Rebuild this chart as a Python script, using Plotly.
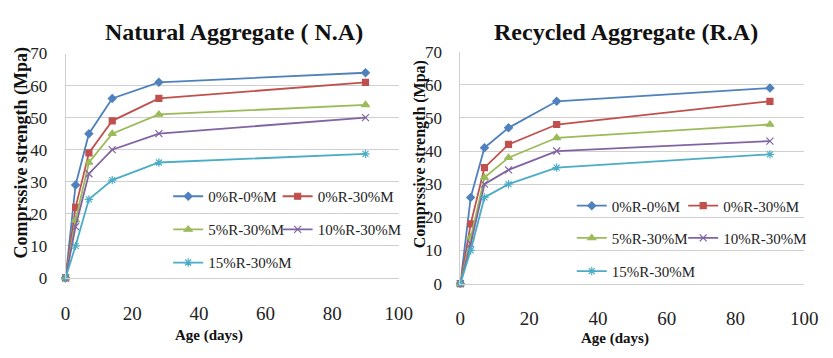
import plotly.graph_objects as go

W, H = 833, 358

days = [0, 3, 7, 14, 28, 90]
series_names = ["0%R-0%M", "0%R-30%M", "5%R-30%M", "10%R-30%M", "15%R-30%M"]

na_0R_0M = [0, 29, 45, 56, 61, 64]
na_0R_30M = [0, 22, 39, 49, 56, 61]
na_5R_30M = [0, 18, 36, 45, 51, 54]
na_10R_30M = [0, 16, 32.5, 40, 45, 50]
na_15R_30M = [0, 10, 24.5, 30.5, 36, 38.7]

ra_0R_0M = [0, 26, 41, 47, 55, 59]
ra_0R_30M = [0, 18, 35, 42, 48, 55]
ra_5R_30M = [0, 14, 32, 38, 44, 48]
ra_10R_30M = [0, 12, 30, 34.3, 40, 43]
ra_15R_30M = [0, 10, 26, 30, 35, 39]

x_ticks = [0, 20, 40, 60, 80, 100]
y_ticks = [0, 10, 20, 30, 40, 50, 60, 70]

colors = ["#4F81BD", "#C0504D", "#9BBB59", "#8064A2", "#4BACC6"]
symbols = ["diamond", "square", "triangle-up", "x-thin-open", "asterisk-open"]
msizes = [6, 6, 7, 7, 7]

FONT = "'Liberation Serif', 'Times New Roman', Times, serif"

def px_x(p):
    return p / W

def px_y(p):
    return 1 - p / H

fig = go.Figure()

na = [na_0R_0M, na_0R_30M, na_5R_30M, na_10R_30M, na_15R_30M]
ra = [ra_0R_0M, ra_0R_30M, ra_5R_30M, ra_10R_30M, ra_15R_30M]

# legend text start positions (px) for each entry: left chart then right chart
left_leg_pos = [(205, 198), (317, 198), (205, 233), (317, 233), (205, 268)]
right_leg_pos = [(618, 208), (732, 208), (618, 242), (732, 242), (618, 277)]

legfont = dict(family=FONT, size=15, color="#222")
TEXT_OFFSET = 38

def leg(xp, yp):
    return dict(x=px_x(xp - TEXT_OFFSET), y=px_y(yp), xanchor="left", yanchor="middle",
                orientation="h", bgcolor="rgba(0,0,0,0)", font=legfont,
                itemwidth=30, traceorder="normal")

legend_layout = {}
n = 0
for side, data, axes, positions in [("L", na, ("x", "y"), left_leg_pos),
                                    ("R", ra, ("x2", "y2"), right_leg_pos)]:
    for i, (name, vals) in enumerate(zip(series_names, data)):
        n += 1
        key = "legend" if n == 1 else f"legend{n}"
        legend_layout[key] = leg(*positions[i])
        fig.add_trace(go.Scatter(
            x=days, y=vals, name=name, mode="lines+markers",
            line=dict(color=colors[i], width=1.8),
            marker=dict(symbol=symbols[i], size=msizes[i], color=colors[i],
                        line=dict(color=colors[i], width=1.2)),
            xaxis=axes[0], yaxis=axes[1], legend=key, cliponaxis=False))

grid = "#CFCFCF"
xtickfont = dict(family=FONT, size=19, color="#222")
ytickfont = dict(family=FONT, size=17, color="#222")

def xax(domain, anchor):
    return dict(domain=domain, anchor=anchor, range=[0, 100], tickvals=x_ticks,
                showgrid=False, zeroline=False, showline=True, linecolor=grid,
                linewidth=1, ticks="", tickfont=xtickfont, ticklabelstandoff=18,
                fixedrange=True)

def yax(domain, anchor, standoff):
    return dict(domain=domain, anchor=anchor, range=[0, 70], tickvals=y_ticks,
                showgrid=True, gridcolor=grid, gridwidth=1, zeroline=False,
                showline=True, linecolor=grid, linewidth=1, ticks="",
                tickfont=ytickfont, ticklabelstandoff=standoff, fixedrange=True)

annotations = [
    dict(text="Natural Aggregate ( N.A)", x=px_x(234), y=px_y(24),
         font=dict(family=FONT, size=24, color="#111", weight="bold")),
    dict(text="Recycled Aggregate (R.A)", x=px_x(635), y=px_y(24),
         font=dict(family=FONT, size=24, color="#111", weight="bold")),
    dict(text="Age (days)", x=px_x(209), y=px_y(345),
         font=dict(family=FONT, size=15, color="#111", weight="bold")),
    dict(text="Age (days)", x=px_x(624), y=px_y(348),
         font=dict(family=FONT, size=15, color="#111", weight="bold")),
    dict(text="Comprssive strength (Mpa)", x=px_x(17), y=px_y(152), textangle=-90,
         font=dict(family=FONT, size=18, color="#111", weight="bold")),
    dict(text="Comprssive strength (Mpa)", x=px_x(425), y=px_y(153), textangle=-90,
         font=dict(family=FONT, size=16, color="#111", weight="bold")),
]
for a in annotations:
    a.update(xref="paper", yref="paper", showarrow=False, xanchor="center", yanchor="middle")

fig.update_layout(
    width=W, height=H,
    margin=dict(l=0, r=0, t=0, b=0),
    paper_bgcolor="white", plot_bgcolor="white",
    font=dict(family=FONT),
    xaxis=xax([px_x(62), px_x(403)], "y"),
    yaxis=yax([px_y(284), px_y(47)], "x", 14),
    xaxis2=xax([px_x(466), px_x(818)], "y2"),
    yaxis2=yax([px_y(290), px_y(45)], "x2", 14),
    annotations=annotations,
    showlegend=True,
    **legend_layout,
)

fig.write_html("out.html")
